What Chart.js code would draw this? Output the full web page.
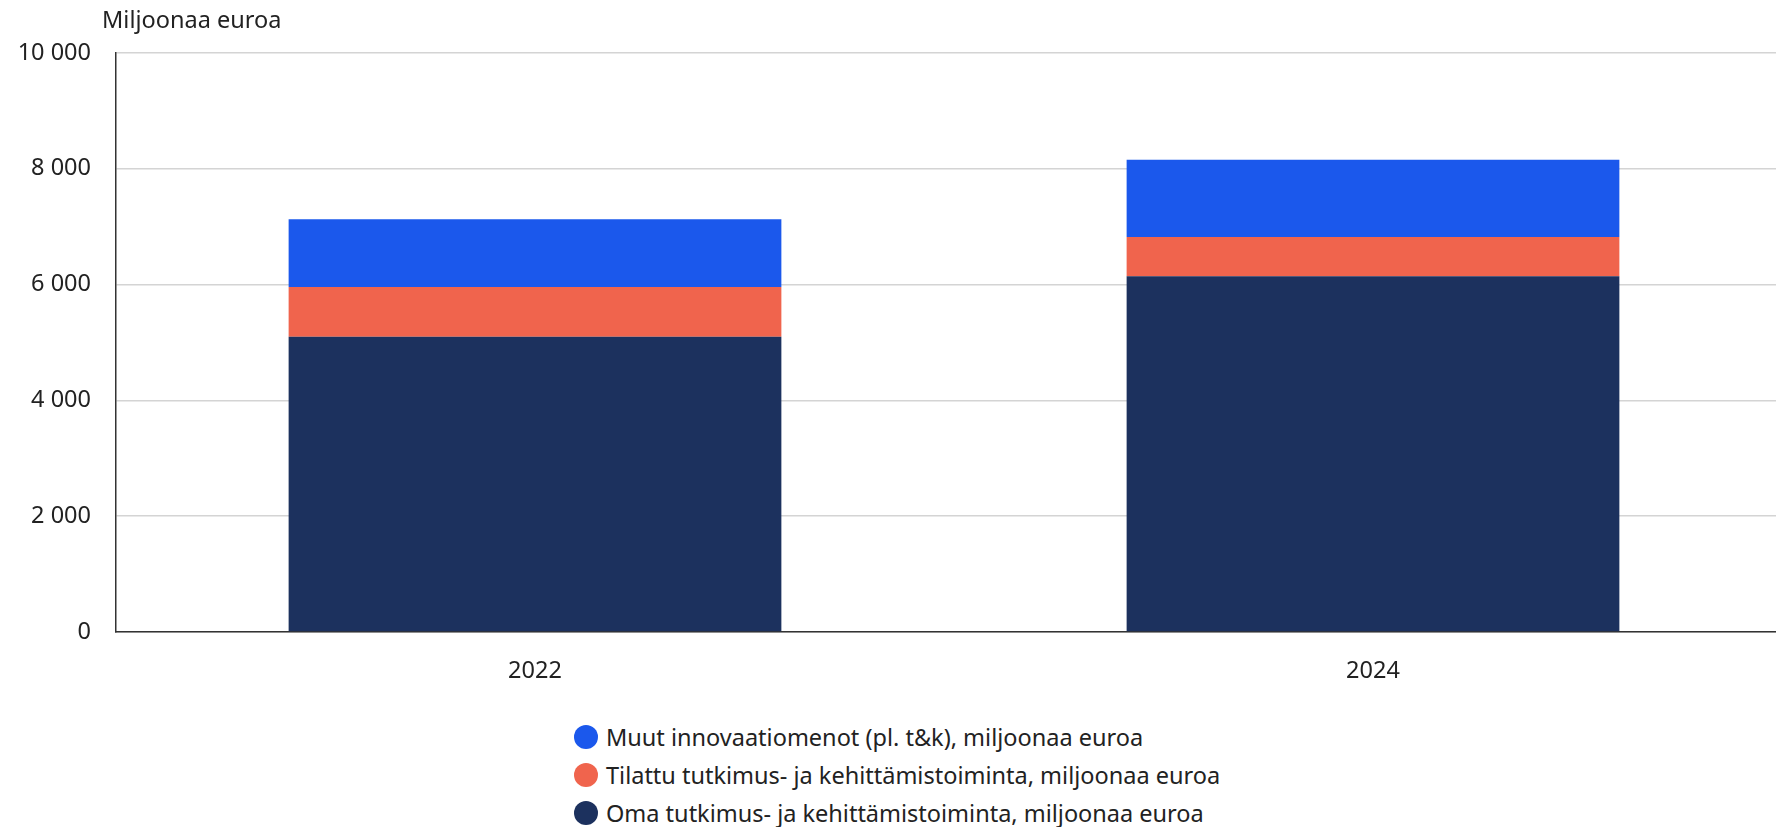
<!DOCTYPE html>
<html lang="fi">
<head>
    <meta charset="UTF-8">
    <title>Innovaatiomenot</title>
    <style>
        html, body { margin: 0; padding: 0; background: #fff; }
        body { width: 1776px; height: 827px; overflow: hidden; font-family: "Noto Sans", sans-serif; }
        /* plot area runs a little past the right edge, as in the original */
        .chart-container { position: relative; width: 1792px; height: 700px; }
        .legend ul { list-style: none; margin: 18px 0 0 574px; padding: 0; }
        .legend li { display: flex; align-items: center; height: 38px; font-size: 23.5px; color: #222; }
        .legend .dot { width: 24px; height: 24px; border-radius: 50%; margin-right: 8px; }
    </style>
</head>
<body>
    <div class="chart-container">
        <canvas id="chart"></canvas>
    </div>
    <div class="legend" id="legend"></div>

    <script src="https://cdn.jsdelivr.net/npm/chart.js@4/dist/chart.umd.min.js"></script>
    <script>
        // data
        const years = ['2022', '2024'];
        const oma = [5100, 6145];
        const tilattu = [860, 678];
        const muut = [1170, 1333];
        const yTicks = [0, 2000, 4000, 6000, 8000, 10000];

        const FONT = 'Noto Sans';
        const FSIZE = 23.5;

        const unitTitle = {
            id: 'unitTitle',
            afterDraw(chart) {
                const c = chart.ctx;
                c.save();
                c.font = FSIZE + 'px "' + FONT + '"';
                c.fillStyle = '#222';
                c.textBaseline = 'middle';
                c.fillText('Miljoonaa euroa', 102, 21);
                c.restore();
            }
        };

        const ctx = document.getElementById('chart').getContext('2d');
        const chart = new Chart(ctx, {
            type: 'bar',
            data: {
                labels: years,
                datasets: [
                    { label: 'Oma tutkimus- ja kehittämistoiminta, miljoonaa euroa', data: oma, backgroundColor: '#1c315e' },
                    { label: 'Tilattu tutkimus- ja kehittämistoiminta, miljoonaa euroa', data: tilattu, backgroundColor: '#f0644d' },
                    { label: 'Muut innovaatiomenot (pl. t&k), miljoonaa euroa', data: muut, backgroundColor: '#1b58ec' }
                ]
            },
            options: {
                responsive: true,
                maintainAspectRatio: false,
                animation: false,
                layout: { padding: { top: 53, right: 0, bottom: 0, left: 0 } },
                datasets: { bar: { categoryPercentage: 1, barPercentage: 0.588 } },
                plugins: {
                    legend: { display: false },
                    tooltip: { enabled: false }
                },
                scales: {
                    x: {
                        stacked: true,
                        grid: { display: false, drawTicks: false },
                        border: { color: '#333', width: 1.5 },
                        ticks: { color: '#222', font: { family: FONT, size: FSIZE }, padding: 25 },
                        afterFit(scale) { scale.height = 68; }
                    },
                    y: {
                        stacked: true,
                        min: 0,
                        max: 10000,
                        afterBuildTicks(scale) { scale.ticks = yTicks.map(v => ({ value: v })); },
                        grid: { color: '#d4d4d4', lineWidth: 1.5, drawTicks: false },
                        border: { color: '#333', width: 1.5 },
                        ticks: {
                            color: '#222',
                            font: { family: FONT, size: FSIZE },
                            padding: 25,
                            callback: v => String(v).replace(/\B(?=(\d{3})+(?!\d))/g, ' ')
                        },
                        afterFit(scale) { scale.width = 116; }
                    }
                }
            },
            plugins: [unitTitle]
        });

        // legend, muut first like in the original
        const ul = document.createElement('ul');
        chart.data.datasets.slice().reverse().forEach(ds => {
            const li = document.createElement('li');
            const dot = document.createElement('span');
            dot.className = 'dot';
            dot.style.background = ds.backgroundColor;
            li.appendChild(dot);
            li.appendChild(document.createTextNode(ds.label));
            ul.appendChild(li);
        });
        document.getElementById('legend').appendChild(ul);
    </script>
</body>
</html>
